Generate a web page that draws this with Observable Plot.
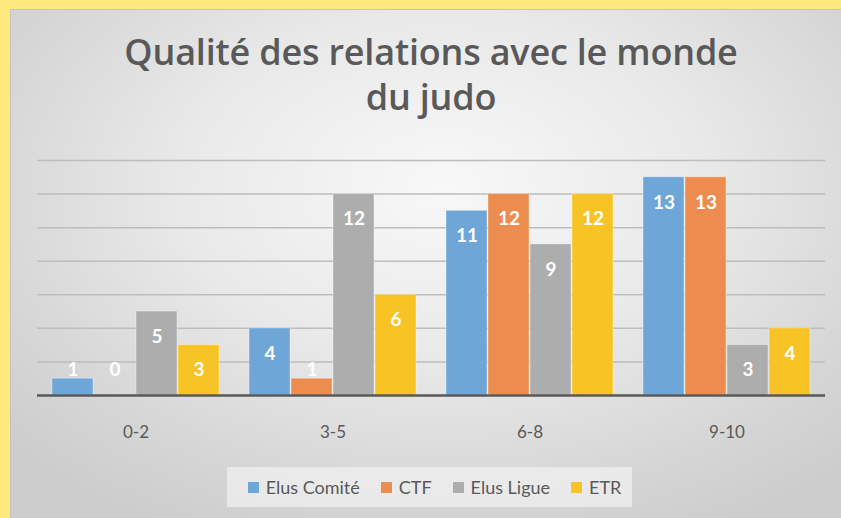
<!DOCTYPE html>
<html>
<head>
<meta charset="utf-8">
<script src="https://cdn.jsdelivr.net/npm/d3@7"></script>
<script src="https://cdn.jsdelivr.net/npm/@observablehq/plot@0.6"></script>
<style>
  html, body { margin: 0; padding: 0; }
  body { width: 841px; height: 518px; overflow: hidden; font-family: Lato, "Open Sans", sans-serif; }
  #wrap { position: relative; width: 841px; height: 518px; background: #FFE97F; }
  #panel { position: absolute; left: 10px; top: 9px; right: 0; bottom: 0;
    background: radial-gradient(ellipse 70% 75% at 52% 35%, #f8f8f8 0%, #e9e9e9 45%, #d6d6d6 80%, #cdcdcd 100%);
    border-left: 1px solid #c4c4c4; border-top: 1px solid #c4c4c4; }
  #title { position: absolute; left: 0; top: 29px; width: 862px; text-align: center;
    font-family: "Open Sans", sans-serif;
    font-size: 36px; line-height: 45px; font-weight: 600; color: #595959; letter-spacing: -0.2px; }
  #chart { position: absolute; left: 0; top: 140px; }
  #legend { position: absolute; left: 227px; top: 467px; width: 405px; height: 40px;
    background: rgba(245,245,245,0.65); display: flex; align-items: center; justify-content: center; gap: 21px;
    font-size: 18px; color: #595959; padding-left: 10px; box-sizing: border-box; }
  .item { display: flex; align-items: center; gap: 7px; }
  .sw { width: 11px; height: 11px; display: inline-block; }
</style>
</head>
<body>
<div id="wrap">
  <div id="panel"></div>
  <div id="title">Qualité des relations avec le monde<br>du judo</div>
  <div id="chart"></div>
  <div id="legend"></div>
</div>
<script>
const categories = ["0-2", "3-5", "6-8", "9-10"];
const series = ["Elus Comité", "CTF", "Elus Ligue", "ETR"];
const colors = ["#6FA6D8", "#EC8D4F", "#ADADAD", "#F8C425"];
const elusComite = [1, 4, 11, 13];
const ctf = [0, 1, 12, 13];
const elusLigue = [5, 12, 9, 3];
const etr = [3, 6, 12, 4];
const gridTicks = [2, 4, 6, 8, 10, 12, 14];

const valuesBySeries = [elusComite, ctf, elusLigue, etr];
const data = [];
categories.forEach((c, i) => {
  series.forEach((s, j) => {
    data.push({group: c, series: s, value: valuesBySeries[j][i]});
  });
});

const chart = Plot.plot({
  width: 841,
  height: 310,
  marginLeft: 37,
  marginRight: 16,
  marginTop: 20,
  marginBottom: 55,
  style: {background: "transparent", fontFamily: "Lato, 'Open Sans', sans-serif", fontSize: "17px", color: "#595959"},
  fx: {domain: categories, padding: 0, label: null, axis: "bottom", tickSize: 0, tickPadding: 30},
  x: {domain: series, paddingInner: 0.024, paddingOuter: 0.357, axis: null},
  y: {domain: [0, 14], axis: null},
  color: {domain: series, range: colors},
  marks: [
    Plot.ruleY(gridTicks, {y: d => d, stroke: "#bdbdbd", strokeWidth: 1.5}),
    Plot.barY(data, {fx: "group", x: "series", y: "value", fill: "series", stroke: "#ffffff", strokeOpacity: 0.35, strokeWidth: 1}),
    Plot.ruleY([0], {stroke: "#595959", strokeWidth: 2.5}),
    Plot.text(data, {fx: "group", x: "series", y: d => Math.max(d.value - 1.5, 1.5), text: d => String(d.value),
      fill: "white", fontSize: 19, fontWeight: "bold"})
  ]
});
document.getElementById("chart").appendChild(chart);

const legend = document.getElementById("legend");
series.forEach((s, i) => {
  const it = document.createElement("div");
  it.className = "item";
  const sw = document.createElement("span");
  sw.className = "sw";
  sw.style.background = colors[i];
  const t = document.createElement("span");
  t.textContent = s;
  it.appendChild(sw);
  it.appendChild(t);
  legend.appendChild(it);
});
</script>
</body>
</html>
